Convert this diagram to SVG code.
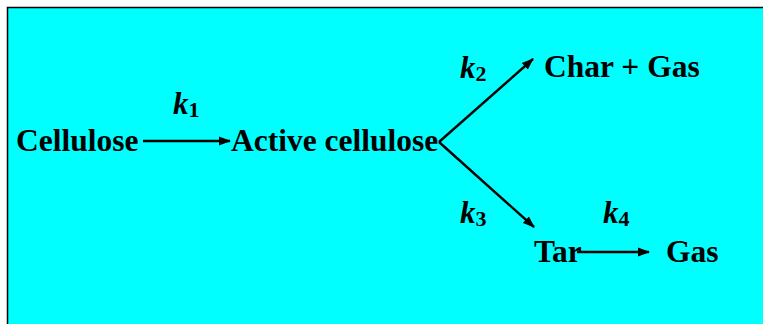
<svg xmlns="http://www.w3.org/2000/svg" width="763" height="324" viewBox="0 0 763 324">
<defs>
<marker id="ah" markerWidth="12" markerHeight="10" refX="11" refY="5" orient="auto" markerUnits="userSpaceOnUse">
<path d="M0,0.5 L12,5 L0,9.5 Z" fill="#000"/>
</marker>
</defs>
<style>
.lbl{font-family:"Liberation Serif","Times New Roman",serif;font-weight:bold;font-size:31.5px;fill:#000}
.k{font-family:"Liberation Serif","Times New Roman",serif;font-weight:bold;font-style:italic;font-size:31px;fill:#000}
.sub{font-style:normal;font-size:22px}
.conn{stroke:#000;stroke-width:2.4;fill:none;marker-end:url(#ah)}
</style>
<rect x="7.5" y="7.5" width="760" height="320" fill="#00FFFF" stroke="#000" stroke-width="1.5"/>
<g id="connectors">
<line class="conn" x1="143" y1="141" x2="230" y2="141"/>
<line class="conn" x1="439" y1="142" x2="533" y2="59"/>
<line class="conn" x1="439" y1="142" x2="534" y2="227"/>
<line class="conn" x1="577" y1="252" x2="649" y2="252"/>
</g>
<g id="cellulose"><text class="lbl" x="16" y="151">Cellulose</text></g>
<g id="active-cellulose"><text class="lbl" x="231" y="151">Active cellulose</text></g>
<g id="char-gas"><text class="lbl" x="544" y="77">Char + Gas</text></g>
<g id="tar"><text class="lbl" x="534" y="262">Tar</text></g>
<g id="gas"><text class="lbl" x="666" y="262">Gas</text></g>
<g id="k1"><text class="k" x="173" y="114">k<tspan class="sub" dy="3">1</tspan></text></g>
<g id="k2"><text class="k" x="460" y="78">k<tspan class="sub" dy="3">2</tspan></text></g>
<g id="k3"><text class="k" x="460" y="223">k<tspan class="sub" dy="3">3</tspan></text></g>
<g id="k4"><text class="k" x="603" y="223">k<tspan class="sub" dy="3">4</tspan></text></g>
</svg>
